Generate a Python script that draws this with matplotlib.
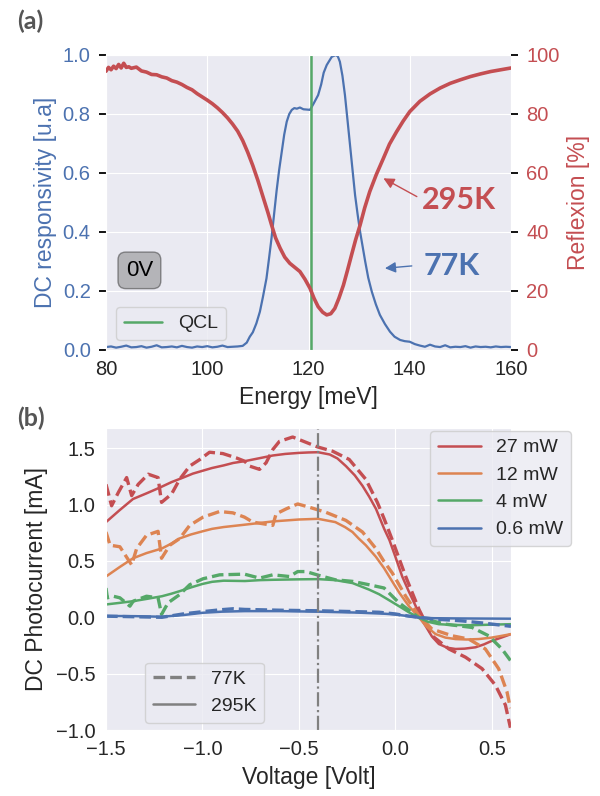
import matplotlib
matplotlib.use("Agg")
import matplotlib.pyplot as plt
import seaborn as sns
from matplotlib.lines import Line2D

sns.set_style("darkgrid")
plt.rcParams['font.family'] = ['Liberation Sans', 'DejaVu Sans']

BLUE = "#4C72B0"
RED = "#C44E52"
GREEN = "#55A868"
ORANGE = "#DD8452"

# ---------------- panel (a) data ----------------
resp_energy = [80, 81, 82, 83, 84, 85, 86, 87, 88, 89, 90, 91, 92, 93, 94, 95, 96, 97, 98, 99,
               100, 101, 102, 103, 104, 105, 106, 107, 107.8, 108.4, 109, 109.7, 110.4, 111, 111.7,
               112.2, 112.7, 113.2, 113.7, 114.2, 114.7, 115.2, 115.7, 116.2, 116.7, 117.2, 117.7,
               118.3, 119, 119.7, 120.3, 121, 121.9, 122.5, 123, 123.6, 124.1, 124.6, 125.4, 125.8,
               126.2, 126.7, 127.2, 127.7, 128.2, 128.7, 129.2, 129.7, 130.2, 130.7, 131.2, 131.8,
               132.5, 133.3, 134.1, 135.1, 136.1, 137, 138.1, 139, 140, 141, 142, 143, 144, 145, 146,
               147, 148, 149, 150, 151, 152, 153, 154, 155, 156, 157, 158, 159, 160]
resp_77K = [0.010, 0.012, 0.008, 0.011, 0.015, 0.009, 0.010, 0.013, 0.008, 0.011, 0.016, 0.009,
            0.010, 0.012, 0.009, 0.014, 0.010, 0.008, 0.012, 0.010, 0.013, 0.009, 0.011, 0.015,
            0.010, 0.011, 0.012, 0.014, 0.025, 0.045, 0.060, 0.090, 0.130, 0.180, 0.243, 0.310,
            0.380, 0.460, 0.540, 0.610, 0.670, 0.730, 0.774, 0.800, 0.814, 0.820, 0.818, 0.822,
            0.816, 0.815, 0.814, 0.835, 0.864, 0.900, 0.940, 0.966, 0.980, 0.994, 1.000, 0.995,
            0.977, 0.930, 0.864, 0.780, 0.695, 0.610, 0.525, 0.460, 0.400, 0.350, 0.300, 0.245,
            0.198, 0.155, 0.119, 0.088, 0.062, 0.045, 0.034, 0.030, 0.028, 0.020, 0.015, 0.011,
            0.018, 0.012, 0.010, 0.016, 0.009, 0.011, 0.010, 0.013, 0.008, 0.012, 0.010, 0.011,
            0.009, 0.012, 0.010, 0.011, 0.010]

refl_energy = [80, 80.5, 81, 81.5, 82, 82.5, 83, 83.5, 84, 84.5, 85, 86, 87, 88, 89, 90, 91, 92, 93,
               94, 95, 96, 97, 98, 99, 100, 101, 102, 103, 104, 105, 106, 107, 108, 109, 110, 111,
               112, 112.7, 113.5, 114.4, 115.3, 116.3, 117.3, 118.3, 119.3, 120.3, 121.1, 121.9,
               122.8, 123.6, 124.4, 125.2, 126, 126.9, 127.7, 128.5, 129.3, 130.2, 131.1, 132.1,
               133.4, 134.8, 136, 137.4, 138.7, 140, 142, 144, 146, 148, 150, 152, 154, 156, 158, 160]
refl_295K = [94.5, 95.8, 95.0, 96.2, 95.4, 96.8, 95.6, 97.2, 95.8, 96.0, 95.5, 95.9, 94.6, 94.2,
             93.4, 93.3, 92.6, 92.2, 91.3, 90.8, 90.0, 89.0, 88.2, 86.9, 85.8, 84.7, 83.5, 82.1,
             80.5, 78.7, 76.6, 74.2, 71.0, 67.0, 62.5, 57.5, 52.0, 46.5, 42.4, 38.0, 34.5, 31.5,
             29.4, 28.0, 26.6, 24.0, 20.9, 17.5, 14.7, 12.8, 11.9, 12.3, 14.1, 17.5, 22.0, 27.0,
             32.2, 37.3, 42.4, 48.2, 53.7, 59.5, 65.0, 69.8, 74.0, 77.6, 80.8, 84.3, 86.8, 88.8,
             90.4, 91.6, 92.7, 93.6, 94.4, 95.0, 95.6]

qcl_energy = 120.4

# ---------------- panel (b) data ----------------
v_27_295 = [-1.5, -1.43, -1.36, -1.29, -1.22, -1.16, -1.1, -1.05, -1.0, -0.95, -0.89, -0.84, -0.78,
            -0.71, -0.635, -0.57, -0.5, -0.45, -0.4, -0.34, -0.3, -0.256, -0.21, -0.17, -0.135,
            -0.1, -0.058, -0.03, 0.0, 0.036, 0.07, 0.106, 0.13, 0.157, 0.19, 0.226, 0.27, 0.312,
            0.36, 0.416, 0.46, 0.502, 0.55, 0.6]
i_27_295 = [0.845, 0.95, 1.05, 1.10, 1.152, 1.20, 1.24, 1.275, 1.30, 1.325, 1.348, 1.37, 1.386,
            1.41, 1.436, 1.45, 1.459, 1.463, 1.465, 1.445, 1.41, 1.342, 1.26, 1.167, 1.07, 0.962,
            0.787, 0.684, 0.54, 0.362, 0.23, 0.099, 0.0, -0.076, -0.17, -0.237, -0.27, -0.281,
            -0.278, -0.266, -0.24, -0.208, -0.18, -0.149]

v_27_77 = [-1.5, -1.471, -1.436, -1.393, -1.367, -1.333, -1.281, -1.23, -1.212, -1.16, -1.118,
           -1.066, -1.014, -0.963, -0.894, -0.825, -0.782, -0.756, -0.704, -0.67, -0.635, -0.601,
           -0.532, -0.463, -0.403, -0.325, -0.239, -0.153, -0.093, -0.058, -0.015, 0.054, 0.123,
           0.191, 0.278, 0.364, 0.45, 0.519, 0.571, 0.597]
i_27_77 = [1.18, 0.99, 1.108, 1.24, 1.08, 1.18, 1.27, 1.24, 1.02, 1.094, 1.225, 1.342, 1.40, 1.465,
           1.453, 1.415, 1.386, 1.342, 1.313, 1.371, 1.489, 1.561, 1.60, 1.553, 1.512, 1.474,
           1.401, 1.225, 1.02, 0.875, 0.684, 0.362, 0.07, -0.164, -0.281, -0.354, -0.456, -0.602,
           -0.778, -0.98]

v_12_295 = [-1.5, -1.43, -1.36, -1.29, -1.21, -1.16, -1.12, -1.06, -1.0, -0.95, -0.89, -0.78, -0.7,
            -0.635, -0.5, -0.4, -0.311, -0.26, -0.222, -0.19, -0.153, -0.101, -0.058, -0.02, 0.02,
            0.07, 0.123, 0.16, 0.209, 0.26, 0.312, 0.37, 0.433, 0.5, 0.55, 0.6]
i_12_295 = [0.362, 0.445, 0.524, 0.57, 0.611, 0.655, 0.699, 0.735, 0.763, 0.785, 0.801, 0.822,
            0.838, 0.851, 0.868, 0.874, 0.845, 0.80, 0.757, 0.70, 0.64, 0.538, 0.436, 0.33, 0.22,
            0.10, 0.0, -0.08, -0.149, -0.18, -0.193, -0.197, -0.193, -0.18, -0.165, -0.149]

v_12_77 = [-1.5, -1.479, -1.428, -1.367, -1.341, -1.29, -1.23, -1.212, -1.169, -1.118, -1.066,
           -0.997, -0.911, -0.842, -0.782, -0.739, -0.635, -0.618, -0.566, -0.506, -0.446, -0.36,
           -0.256, -0.17, -0.101, -0.058, -0.015, 0.054, 0.123, 0.191, 0.295, 0.381, 0.467, 0.536,
           0.579, 0.597]
i_12_77 = [0.757, 0.64, 0.626, 0.465, 0.611, 0.728, 0.763, 0.524, 0.64, 0.699, 0.816, 0.889, 0.939,
           0.927, 0.889, 0.845, 0.816, 0.918, 0.962, 1.006, 0.977, 0.932, 0.86, 0.757, 0.611,
           0.494, 0.392, 0.187, 0.012, -0.105, -0.164, -0.193, -0.281, -0.456, -0.66, -0.807]

v_4_295 = [-1.5, -1.43, -1.36, -1.29, -1.21, -1.16, -1.12, -1.06, -1.0, -0.95, -0.89, -0.78, -0.7,
           -0.635, -0.5, -0.4, -0.311, -0.222, -0.136, -0.084, -0.04, 0.019, 0.07, 0.123, 0.17,
           0.226, 0.3, 0.398, 0.5, 0.6]
i_4_295 = [0.114, 0.128, 0.143, 0.163, 0.187, 0.21, 0.231, 0.265, 0.296, 0.315, 0.325, 0.322, 0.33,
           0.333, 0.337, 0.339, 0.33, 0.304, 0.246, 0.205, 0.16, 0.099, 0.045, -0.003, -0.04,
           -0.061, -0.068, -0.07, -0.065, -0.061]

v_4_77 = [-1.5, -1.493, -1.462, -1.428, -1.376, -1.359, -1.29, -1.23, -1.212, -1.178, -1.118, -1.066,
          -0.997, -0.911, -0.782, -0.704, -0.635, -0.549, -0.506, -0.463, -0.394, -0.311, -0.222,
          -0.136, -0.058, 0.019, 0.123, 0.261, 0.398, 0.484, 0.553, 0.597]
i_4_77 = [0.26, 0.173, 0.187, 0.173, 0.099, 0.143, 0.187, 0.173, 0.026, 0.129, 0.202, 0.289, 0.342,
          0.377, 0.383, 0.348, 0.377, 0.362, 0.406, 0.406, 0.371, 0.333, 0.319, 0.289, 0.26,
          0.129, -0.003, -0.061, -0.09, -0.164, -0.281, -0.383]

v_06_295 = [-1.5, -1.35, -1.21, -1.1, -1.0, -0.9, -0.78, -0.6, -0.4, -0.2, -0.058, 0.0, 0.06, 0.123,
            0.2, 0.35, 0.6]
i_06_295 = [0.012, 0.010, 0.005, 0.02, 0.04, 0.05, 0.055, 0.055, 0.05, 0.042, 0.032, 0.025, 0.012,
            -0.003, -0.008, -0.010, -0.012]

v_06_77 = [-1.5, -1.35, -1.21, -1.1, -1.0, -0.9, -0.84, -0.78, -0.6, -0.4, -0.2, -0.084, 0.0, 0.06,
           0.123, 0.2, 0.347, 0.45, 0.6]
i_06_77 = [0.01, 0.005, 0.0, 0.03, 0.05, 0.068, 0.076, 0.07, 0.063, 0.058, 0.05, 0.045, 0.03, 0.013,
           0.0, -0.015, -0.032, -0.05, -0.08]

power_labels = ["27 mW", "12 mW", "4 mW", "0.6 mW"]
temp_labels = ["77K", "295K"]
bias_voltage = -0.4

# ---------------- figure ----------------
fig = plt.figure(figsize=(6.0, 7.96), dpi=100)
W, H = 600.0, 796.0
ax1 = fig.add_axes([106 / W, 1 - 350 / H, 405 / W, 295 / H])
ax2 = ax1.twinx()
ax3 = fig.add_axes([106 / W, 1 - 730 / H, 405 / W, 302 / H])

TICK = 14.5
LAB = 16.5
DASH = (0, (3.5, 1.5))

# panel (a)
ax1.plot(resp_energy, resp_77K, color=BLUE, lw=1.6)
ax1.axvline(qcl_energy, color=GREEN, lw=1.8, label="QCL")
ax2.plot(refl_energy, refl_295K, color=RED, lw=2.6)
ax2.grid(False)
ax1.set_xlim(80, 160)
ax1.set_ylim(0, 1.0)
ax2.set_ylim(0, 100)
ax1.set_xticks([80, 100, 120, 140, 160])
ax1.set_yticks([0.0, 0.2, 0.4, 0.6, 0.8, 1.0])
ax2.set_yticks([0, 20, 40, 60, 80, 100])
ax1.tick_params(axis='x', labelsize=TICK, bottom=False, pad=4)
ax1.tick_params(axis='y', labelsize=TICK, labelcolor=BLUE, left=True, length=5, width=1.3,
                color='black', pad=6)
ax2.tick_params(axis='y', labelsize=TICK, labelcolor=RED, right=True, length=5, width=1.3,
                color='black', pad=6)
ax1.set_xlabel("Energy [meV]", fontsize=LAB, labelpad=5)
ax1.set_ylabel("DC responsivity [u.a]", fontsize=LAB, color=BLUE, labelpad=4)
ax2.set_ylabel("Reflexion [%]", fontsize=LAB, color=RED, labelpad=5)
for sp in ax2.spines.values():
    sp.set_visible(False)

leg1 = ax1.legend(loc="lower left", fontsize=14, frameon=True, handlelength=2.0)
leg1.get_frame().set_facecolor("#EAEAF2")
leg1.get_frame().set_edgecolor("#cccccc")

ax1.text(86.6, 0.27, "0V", fontsize=16, ha="center", va="center", color="black",
         bbox=dict(boxstyle="round,pad=0.35", facecolor="gray", alpha=0.5, edgecolor="#333333"))

ax2.annotate("", xy=(134.8, 58.2), xytext=(141.4, 52.0),
             arrowprops=dict(arrowstyle="-|>", color=RED, lw=1.0, mutation_scale=16,
                             shrinkA=0, shrinkB=0))
ax2.text(149.7, 50.8, "295K", fontsize=22, fontweight="bold", family=["Lato", "DejaVu Sans"],
         color=RED, ha="center", va="center")
ax1.annotate("", xy=(135.1, 0.277), xytext=(140.4, 0.285),
             arrowprops=dict(arrowstyle="-|>", color=BLUE, lw=1.0, mutation_scale=16,
                             shrinkA=0, shrinkB=0))
ax1.text(148.3, 0.285, "77K", fontsize=22, fontweight="bold", family=["Lato", "DejaVu Sans"],
         color=BLUE, ha="center", va="center")

fig.text(17 / W, 1 - 21 / H, "(a)", fontsize=18, fontweight="bold", color="#555555",
         family=["Lato", "DejaVu Sans"], ha="left", va="center")
fig.text(17 / W, 1 - 418 / H, "(b)", fontsize=18, fontweight="bold", color="#555555",
         family=["Lato", "DejaVu Sans"], ha="left", va="center")

# panel (b)
solid = [(v_27_295, i_27_295), (v_12_295, i_12_295), (v_4_295, i_4_295), (v_06_295, i_06_295)]
dashed = [(v_27_77, i_27_77), (v_12_77, i_12_77), (v_4_77, i_4_77), (v_06_77, i_06_77)]
colors = [RED, ORANGE, GREEN, BLUE]
handles = []
for (vs, cs), (vd, cd), c, lab in zip(solid, dashed, colors, power_labels):
    ax3.plot(vd, cd, color=c, lw=2.4, ls=DASH)
    h, = ax3.plot(vs, cs, color=c, lw=1.8, label=lab)
    handles.append(h)
ax3.axvline(bias_voltage, color="gray", lw=1.6, ls="-.")
ax3.set_xlim(-1.5, 0.6)
ax3.set_ylim(-1.0, 1.68)
ax3.set_xticks([-1.5, -1.0, -0.5, 0.0, 0.5])
ax3.set_yticks([-1.0, -0.5, 0.0, 0.5, 1.0, 1.5])
ax3.tick_params(labelsize=TICK, pad=4)
ax3.set_xlabel("Voltage [Volt]", fontsize=LAB, labelpad=5)
ax3.set_ylabel("DC Photocurrent [mA]", fontsize=LAB, labelpad=6)

leg_p = ax3.legend(handles=handles, loc="upper left", bbox_to_anchor=(0.8, 0.99),
                   borderaxespad=0, fontsize=14, frameon=True, handlelength=2.2)
leg_p.get_frame().set_facecolor("#EAEAF2")
leg_p.get_frame().set_edgecolor("#cccccc")
ax3.add_artist(leg_p)
temp_handles = [Line2D([], [], color="gray", lw=2.4, ls=DASH),
                Line2D([], [], color="gray", lw=1.8)]
leg_t = ax3.legend(temp_handles, temp_labels, loc="lower left",
                   bbox_to_anchor=(0.096, 0.023), borderaxespad=0, fontsize=14, frameon=True,
                   handlelength=2.2)
leg_t.get_frame().set_facecolor("#EAEAF2")
leg_t.get_frame().set_edgecolor("#cccccc")

fig.savefig("out.png", dpi=100)
